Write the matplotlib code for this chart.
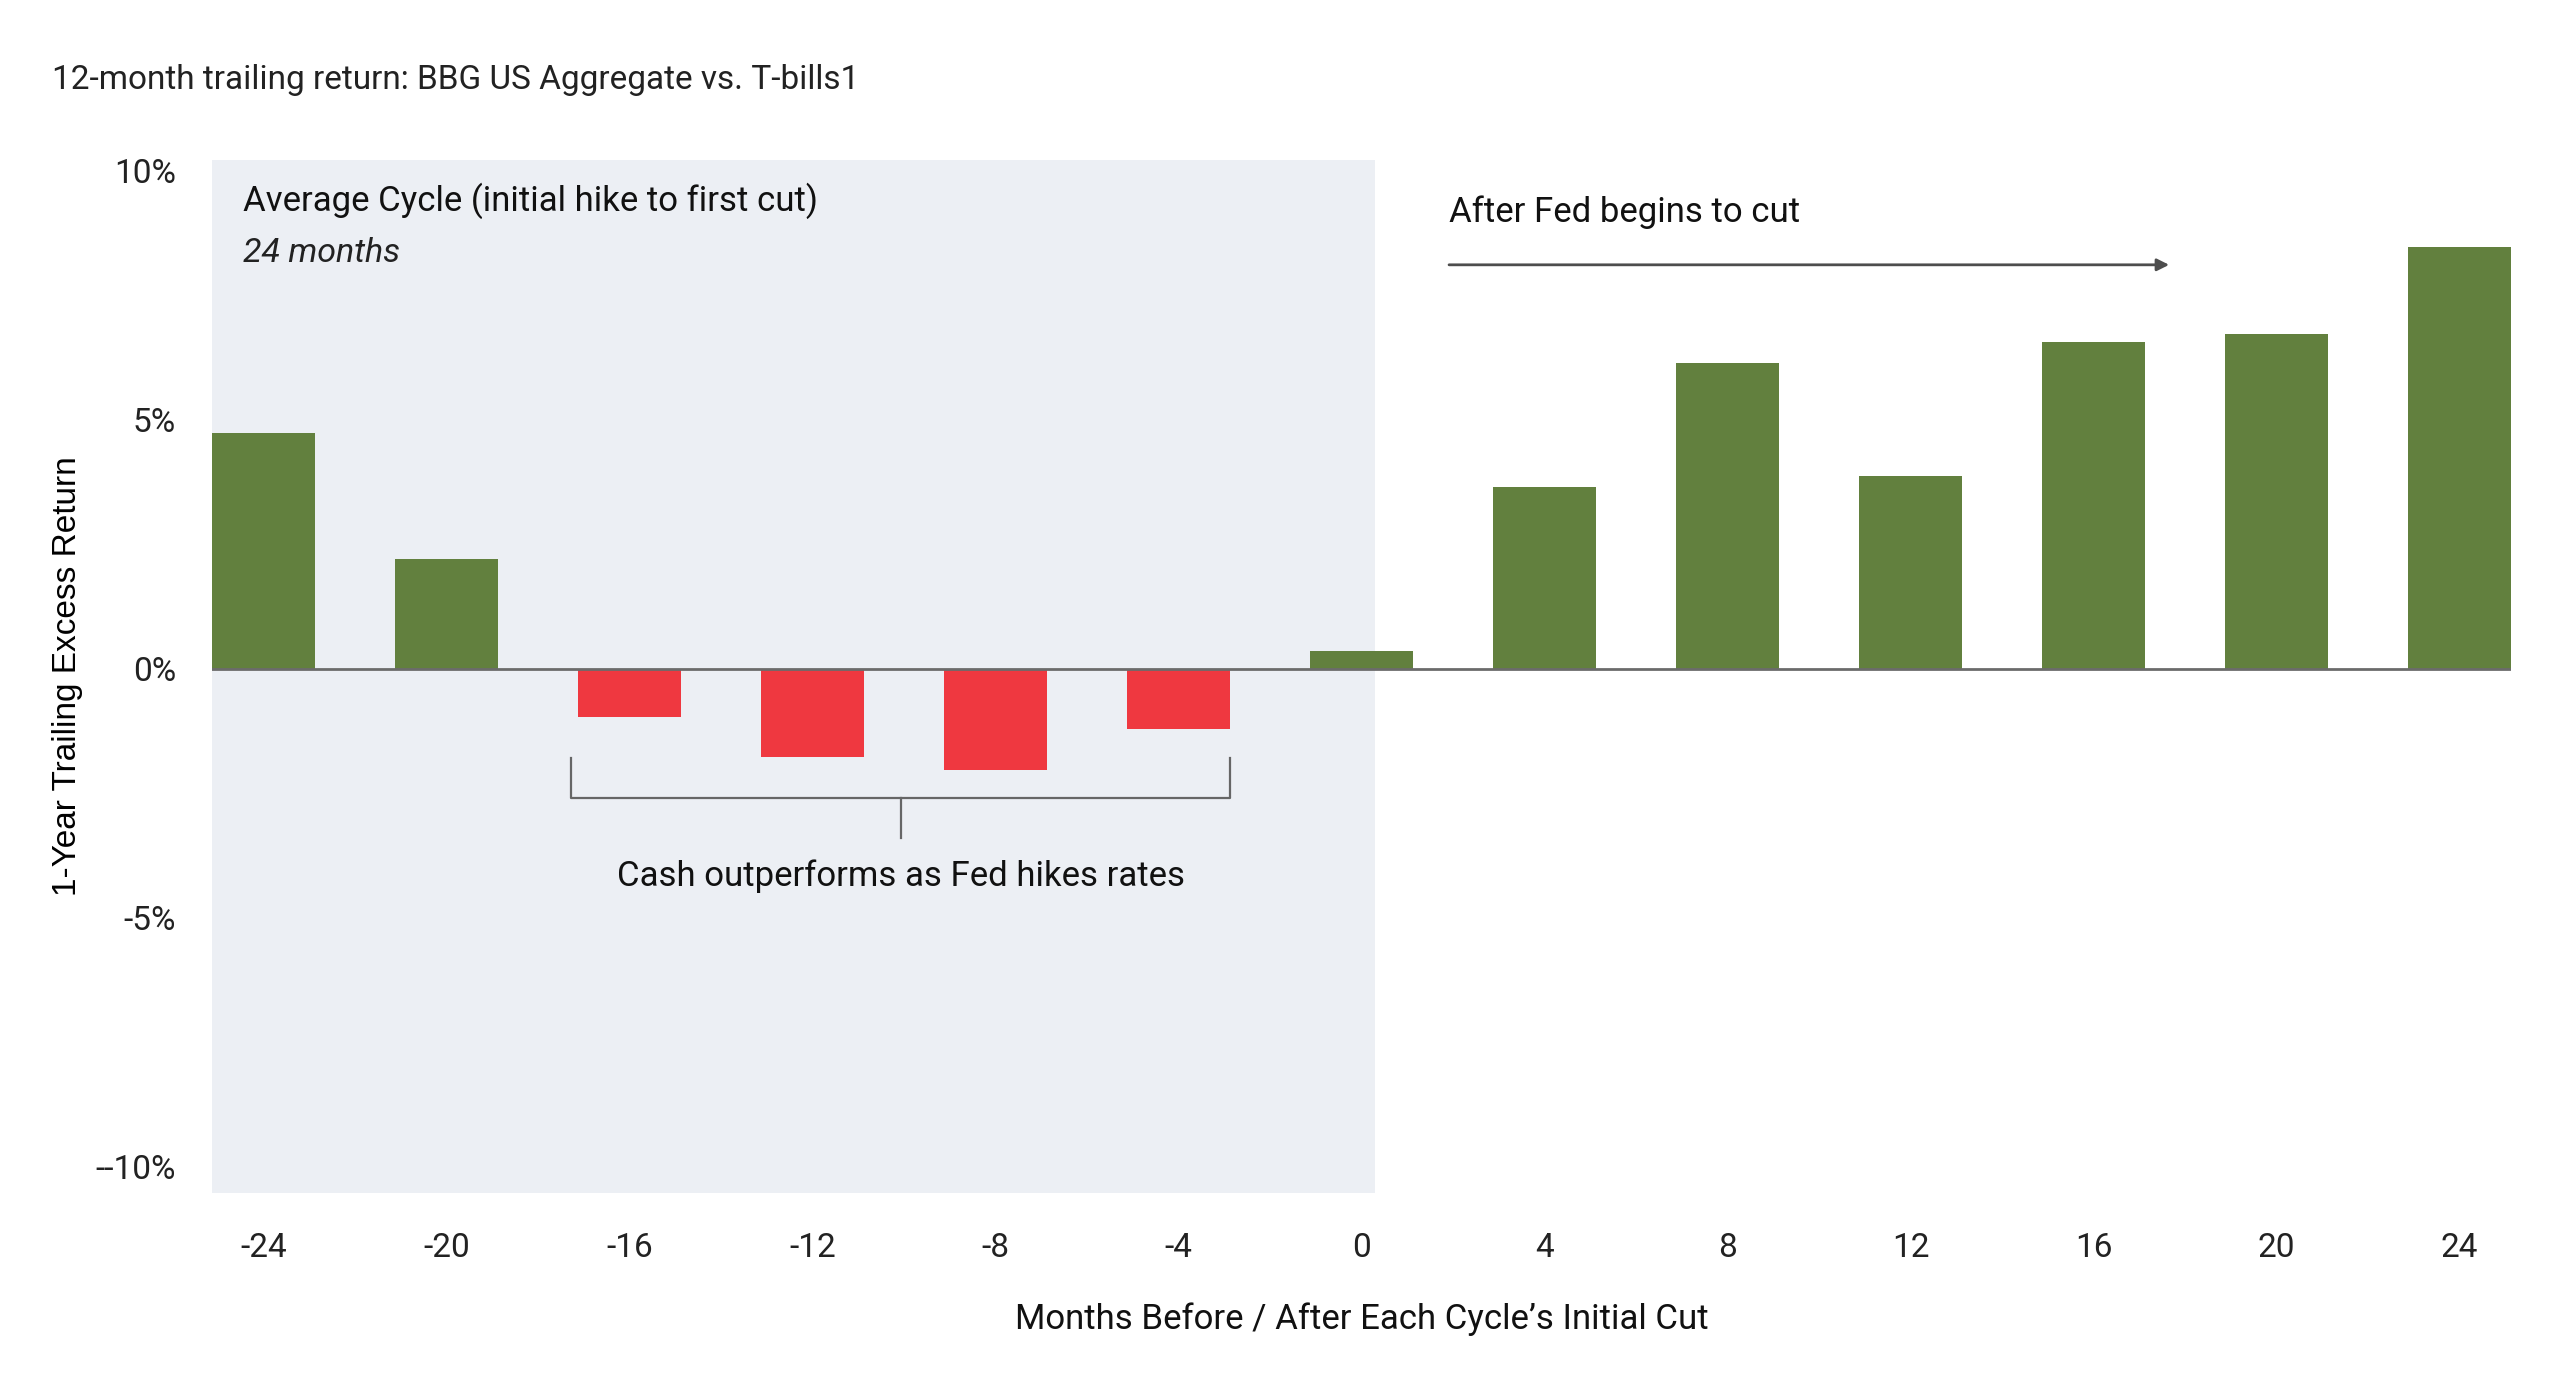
import matplotlib
matplotlib.use("Agg")
import matplotlib.pyplot as plt
import numpy as np

# data
months = [-24, -20, -16, -12, -8, -4, 0, 4, 8, 12, 16, 20, 24]
excess = [4.72, 2.2, -0.98, -1.77, -2.03, -1.21, 0.36, 3.64, 6.13, 3.87, 6.56, 6.72, 8.46]
yticks = [10, 5, 0, -5, -10]
ytick_labels = ["10%", "5%", "0%", "-5%", "--10%"]

green = "#62803e"
red = "#ef3840"
shade = "#eceff4"
cond = ["Liberation Sans Narrow", "Roboto", "DejaVu Sans"]

plt.rcParams["font.family"] = cond

fig = plt.figure(figsize=(25.6, 14), dpi=100)
ax = fig.add_axes([0.0829, 0.148, 0.898, 0.7376])

ax.axvspan(-25.125, 0.3, color=shade, zorder=0, lw=0)

cols = [green if v >= 0 else red for v in excess]
ax.bar(months, excess, width=2.25, color=cols, zorder=2)
ax.axhline(0, color="#6b6b6b", lw=2, zorder=3)

ax.set_xlim(-25.125, 25.125)
ax.set_ylim(-10.52, 10.2)

ax.set_xticks(months)
ax.set_xticklabels([str(m) for m in months], fontsize=24, color="#222222")
ax.set_yticks(yticks)
ax.set_yticklabels(ytick_labels, fontsize=24, color="#222222")
ax.tick_params(axis="x", length=0, pad=28)
ax.tick_params(axis="y", length=0, pad=26)
for s in ax.spines.values():
    s.set_visible(False)

ax.set_xlabel("Months Before / After Each Cycle\u2019s Initial Cut", fontsize=25,
              color="#111111", labelpad=28)
ax.set_ylabel("1-Year Trailing Excess Return", fontsize=24, color="#000000",
              family="Liberation Sans", labelpad=9)

fig.text(0.0204, 0.943, "12-month trailing return: BBG US Aggregate vs. T-bills1",
         fontsize=24, color="#222222", va="center", ha="left")

# annotations
ax.text(-24.46, 9.38, "Average Cycle (initial hike to first cut)", fontsize=25,
        color="#111111", va="center", ha="left")
ax.text(-24.46, 8.33, "24 months", fontsize=24.5, style="italic",
        color="#222222", va="center", ha="left")
ax.text(1.91, 9.15, "After Fed begins to cut", fontsize=25,
        color="#111111", va="center", ha="left")
ax.annotate("", xy=(17.65, 8.1), xytext=(1.91, 8.1),
            arrowprops=dict(arrowstyle="-|>", color="#4d4d4d", lw=2,
                            mutation_scale=18, shrinkA=0, shrinkB=0))

bx0, bx1, bxc = -17.29, -2.87, -10.08
ax.plot([bx0, bx0, bx1, bx1], [-1.80, -2.59, -2.59, -1.80], color="#666666", lw=1.6, zorder=3)
ax.plot([bxc, bxc], [-2.59, -3.41], color="#666666", lw=1.6, zorder=3)
ax.text(bxc, -4.16, "Cash outperforms as Fed hikes rates", fontsize=25,
        color="#111111", va="center", ha="center")

fig.savefig("out.png", dpi=100)
